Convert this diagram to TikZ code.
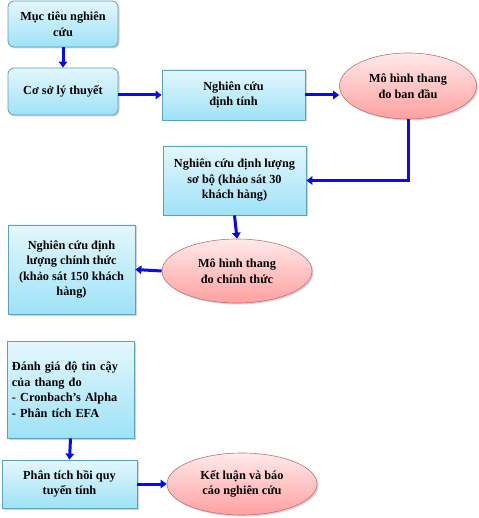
\documentclass[tikz,border=0pt]{standalone}
\usepackage{fontspec}
\setmainfont{Liberation Serif}
\usetikzlibrary{arrows.meta,shapes.geometric,shadows}
\definecolor{boxtop}{RGB}{228,247,253}
\definecolor{boxbot}{RGB}{158,226,247}
\definecolor{boxline}{RGB}{92,160,196}
\definecolor{elltop}{RGB}{255,234,234}
\definecolor{ellbot}{RGB}{255,160,160}
\definecolor{ellline}{RGB}{200,110,110}
\definecolor{arrowblue}{RGB}{10,10,240}
\tikzset{
  every node/.style={font=\fontsize{12.3}{15.5}\selectfont\bfseries, inner sep=2pt},
  boxnode/.style={draw=boxline, line width=0.8pt, top color=boxtop, bottom color=boxbot,
    minimum width=#1, align=center, drop shadow={opacity=0.35, shadow xshift=1.5pt, shadow yshift=-1.5pt}},
  ellnode/.style={ellipse, draw=ellline, line width=0.6pt, top color=elltop, bottom color=ellbot,
    inner sep=0pt, align=center, drop shadow={opacity=0.35, shadow xshift=1.5pt, shadow yshift=-1.5pt}},
  conn/.style={draw=arrowblue, line width=3pt, -{Triangle[length=6pt,width=8.5pt]}}
}
\begin{document}
\begin{tikzpicture}[x=1pt,y=-1pt]
\useasboundingbox (0,0) rectangle (478,518);
\node[boxnode=110pt, rounded corners=6pt, minimum height=46pt] (b1) at (63,24) {Mục tiêu nghiên\\cứu};
\node[boxnode=110pt, rounded corners=6pt, minimum height=47pt] (b2) at (63,91.5) {Cơ sở lý thuyết};
\node[boxnode=143pt, minimum height=50pt] (b3) at (233.5,95) {Nghiên cứu\\định tính};
\node[ellnode, minimum width=137pt, minimum height=66pt] (e1) at (408,86) {Mô hình thang\\đo ban đầu};
\node[boxnode=143pt, minimum height=69pt] (b4) at (234.5,180.5) {Nghiên cứu định lượng\\sơ bộ (khảo sát 30\\khách hàng)};
\node[ellnode, minimum width=150pt, minimum height=64pt] (e2) at (237,271) {Mô hình thang\\đo chính thức};
\node[boxnode=127pt, minimum height=89pt] (b5) at (71.5,269.5) {Nghiên cứu định\\lượng chính thức\\(khảo sát 150 khách\\hàng)};
\node[boxnode=127pt, minimum height=97pt, align=left, text width=117pt] (b6) at (70.5,389.5) {Đánh giá độ tin cậy\\của thang đo\\- Cronbach’s Alpha\\- Phân tích EFA};
\node[boxnode=135pt, minimum height=48pt] (b7) at (69.5,484) {Phân tích hồi quy\\tuyến tính};
\node[ellnode, minimum width=150pt, minimum height=62pt] (e3) at (242,484) {Kết luận và báo\\cáo nghiên cứu};
\draw[conn] (b1.south) -- (b2.north);
\draw[conn] (b2.east |- b3.west) -- (b3.west);
\draw[conn] (b3.east) -- (b3.east -| e1.west);
\draw[conn] (e1.south) |- (b4.east);
\draw[conn] (b4.south) -- (e2.north);
\draw[conn] (e2.west) -- (b5.east);
\draw[conn] (b6.south) -- (b7.north);
\draw[conn] (b7.east) -- (e3.west);
\end{tikzpicture}
\end{document}
